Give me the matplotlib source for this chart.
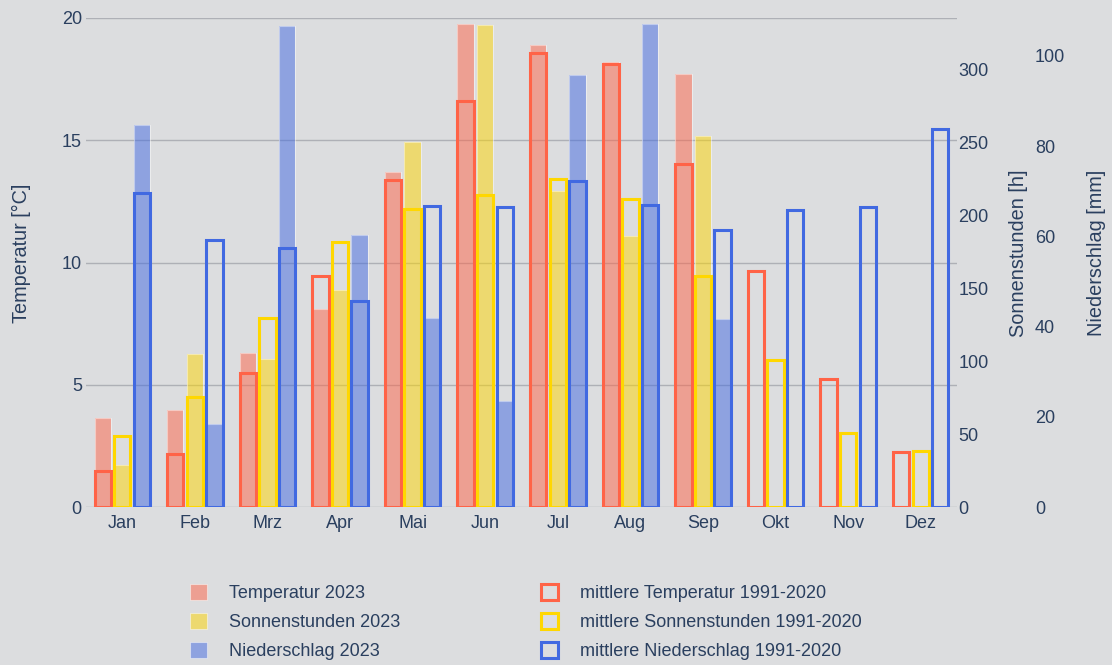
import matplotlib
matplotlib.use("Agg")
import matplotlib.pyplot as plt
from matplotlib.patches import Rectangle
import numpy as np

months = ["Jan", "Feb", "Mrz", "Apr", "Mai", "Jun", "Jul", "Aug", "Sep", "Okt", "Nov", "Dez"]

temp_2023 = [3.65, 3.97, 6.29, 8.1, 13.69, 19.74, 18.9, 18.2, 17.7, None, None, None]
temp_mean = [1.48, 2.15, 5.47, 9.45, 13.37, 16.62, 18.56, 18.1, 14.02, 9.67, 5.24, 2.24]

sun_2023 = [28.8, 104.8, 101.4, 149.0, 250.2, 330.6, 216.4, 185.6, 254.3, None, None, None]
sun_mean = [48.6, 75.5, 129.7, 181.7, 204.6, 214.2, 224.7, 211.0, 158.2, 100.7, 50.5, 38.4]

rain_2023 = [84.7, 18.4, 106.7, 60.4, 41.9, 23.4, 95.8, 107.1, 41.6, None, None, None]
rain_mean = [69.7, 59.1, 57.5, 45.6, 66.7, 66.4, 72.3, 66.9, 61.4, 65.8, 66.5, 83.8]

temp_ticks = [0, 5, 10, 15, 20]
sun_ticks = [0, 50, 100, 150, 200, 250, 300]
rain_ticks = [0, 20, 40, 60, 80, 100]

BG = "#dcdddf"
TXT = "#2a3f5f"
GRID = "#aeb0b6"
C_T = "#ff6347"
C_S = "#ffd700"
C_R = "#4169e1"

plt.rcParams["font.family"] = ["Liberation Sans", "DejaVu Sans"]

W, H = 1112, 665
fig = plt.figure(figsize=(W / 100, H / 100), dpi=100, facecolor=BG)
L, R, B, T = 86, 957, 507, 18
ax = fig.add_axes([L / W, 1 - B / H, (R - L) / W, (B - T) / H])
ax.set_facecolor(BG)
ax2 = ax.twinx()
ax3 = ax.twinx()

x = np.arange(len(months))
off = 0.27
bw = 0.225
fill_edge = (1, 1, 1, 0.45)


def draw(a, pos, v2023, vmean, color):
    xs = [p for p, v in zip(pos, v2023) if v is not None]
    vs = [v for v in v2023 if v is not None]
    a.bar(xs, vs, width=bw, color=color, alpha=0.5, edgecolor="none", zorder=2)
    a.bar(xs, vs, width=bw, facecolor="none", edgecolor=fill_edge, linewidth=0.8, zorder=2)
    a.bar(pos, vmean, width=bw, facecolor="none", edgecolor=color, linewidth=2.2, zorder=3)


draw(ax, x - off, temp_2023, temp_mean, C_T)
draw(ax2, x, sun_2023, sun_mean, C_S)
draw(ax3, x + off, rain_2023, rain_mean, C_R)

ax.set_xlim(-0.5, 11.5)
ax.set_ylim(0, 20)
ax2.set_ylim(0, 335.2)
ax3.set_ylim(0, 108.4)

for a in (ax, ax2, ax3):
    for s in a.spines.values():
        s.set_visible(False)

ax.set_axisbelow(True)
ax.set_yticks(temp_ticks)
ax.yaxis.grid(True, color=GRID, linewidth=1.0, zorder=0)
ax.set_xticks(x)
ax.set_xticklabels(months)
ax.tick_params(axis="x", length=0, pad=6, labelsize=13, labelcolor=TXT)
ax.tick_params(axis="y", length=0, pad=3, labelsize=13, labelcolor=TXT)
ax.set_ylabel("Temperatur [°C]", fontsize=14.3, color=TXT)

ax2.set_yticks(sun_ticks)
ax2.tick_params(axis="y", length=0, pad=1, labelsize=13, labelcolor=TXT)
ax2.set_ylabel("Sonnenstunden [h]", fontsize=14.3, color=TXT)

ax3.spines["right"].set_position(("axes", (1035 - L) / (R - L)))
ax3.set_yticks(rain_ticks)
ax3.tick_params(axis="y", length=0, pad=0, labelsize=13, labelcolor=TXT)
ax3.set_ylabel("Niederschlag [mm]", fontsize=14.3, color=TXT)

for a, xc in ((ax, 21), (ax2, 1019), (ax3, 1096)):
    lab = a.yaxis.label
    lab.set_rotation(90)
    lab.set_va("center")
    lab.set_ha("center")
    lab.set_rotation_mode("default")
    a.yaxis.set_label_coords((xc - L) / (R - L), (B - 253) / (B - T))

handles = []
labels = []
for c, n in [(C_T, "Temperatur 2023"), (C_S, "Sonnenstunden 2023"), (C_R, "Niederschlag 2023")]:
    rgb = matplotlib.colors.to_rgb(c)
    handles.append(Rectangle((0, 0), 1, 1, facecolor=(*rgb, 0.5), edgecolor=fill_edge, linewidth=0.8))
    labels.append(n)
for c, n in [(C_T, "mittlere Temperatur 1991-2020"), (C_S, "mittlere Sonnenstunden 1991-2020"),
             (C_R, "mittlere Niederschlag 1991-2020")]:
    handles.append(Rectangle((0, 0), 1, 1, facecolor="none", edgecolor=c, linewidth=2.2))
    labels.append(n)

leg = fig.legend(handles, labels, ncol=2, loc="upper left",
                 bbox_to_anchor=(190 / W, 1 - 584 / H), frameon=False,
                 fontsize=13, handlelength=0.94, handleheight=1.0, handletextpad=1.22,
                 columnspacing=7.78, labelspacing=0.6, borderpad=0, borderaxespad=0)
for t in leg.get_texts():
    t.set_color(TXT)

fig.savefig("out.png", dpi=100, facecolor=BG)
